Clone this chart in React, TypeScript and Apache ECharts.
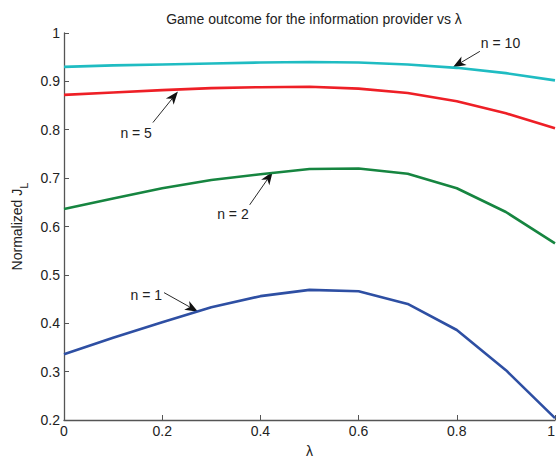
import React, { useEffect, useRef } from "react";
import * as echarts from "echarts";

const lambdas = [0, 0.1, 0.2, 0.3, 0.4, 0.5, 0.6, 0.7, 0.8, 0.9, 1];
const n1 = [0.336, 0.37, 0.402, 0.433, 0.456, 0.469, 0.466, 0.44, 0.386, 0.303, 0.204];
const n2 = [0.636, 0.658, 0.679, 0.696, 0.708, 0.719, 0.72, 0.709, 0.679, 0.63, 0.565];
const n5 = [0.872, 0.877, 0.882, 0.886, 0.888, 0.889, 0.885, 0.876, 0.859, 0.834, 0.803];
const n10 = [0.930, 0.933, 0.935, 0.937, 0.939, 0.940, 0.939, 0.935, 0.928, 0.917, 0.902];
const seriesNames = ["n = 1", "n = 2", "n = 5", "n = 10"];
const seriesColors = ["#2e4fa3", "#168540", "#ee1f26", "#1fbcc2"];

// annotation: label, tip (data coords), tail offset (px), text anchor offset (px), align
const annotations = [
  { text: "n = 10", tip: [0.792, 0.929], tail: [27, -16], txt: [28, -24], align: "left" },
  { text: "n = 5", tip: [0.232, 0.879], tail: [-25, 31], txt: [-26, 41], align: "right" },
  { text: "n = 2", tip: [0.425, 0.713], tail: [-23, 33], txt: [-24, 42], align: "right" },
  { text: "n = 1", tip: [0.273, 0.424], tail: [-34, -19], txt: [-36, -17], align: "right" },
];

export default function App() {
  const ref = useRef<HTMLDivElement>(null);
  useEffect(() => {
    const chart = echarts.init(ref.current!, null, { renderer: "svg" });
    const font = "Liberation Sans, Arial, sans-serif";
    const axisColor = "#555555";
    const datasets = [n1, n2, n5, n10];
    chart.setOption({
      animation: false,
      backgroundColor: "#ffffff",
      title: {
        text: "Game outcome for the information provider vs λ",
        left: 309,
        top: 7,
        textAlign: "center",
        textStyle: { fontFamily: font, fontSize: 14, fontWeight: "normal", color: "#222" },
      },
      grid: { left: 64, right: 2, top: 33, bottom: 40, containLabel: false, outerBoundsMode: "none" },
      xAxis: {
        type: "value",
        min: 0,
        max: 1,
        interval: 0.2,
        name: "λ",
        nameLocation: "middle",
        nameGap: 24,
        nameTextStyle: { fontFamily: font, fontSize: 14, color: "#222" },
        axisLine: { show: true, lineStyle: { color: axisColor, width: 1.3 } },
        axisTick: { show: true, inside: true, length: 5, lineStyle: { color: axisColor } },
        axisLabel: {
          fontFamily: font,
          fontSize: 14,
          color: "#222",
          margin: 4,
          alignMaxLabel: "right",
          formatter: (v: number) => String(Math.round(v * 10) / 10),
        },
        splitLine: { show: false },
      },
      yAxis: {
        type: "value",
        min: 0.2,
        max: 1,
        interval: 0.1,
        name: "Normalized J{sub|L}",
        nameLocation: "middle",
        nameGap: 40,
        nameRotate: 90,
        nameTextStyle: {
          fontFamily: font,
          fontSize: 14,
          color: "#222",
          rich: { sub: { fontFamily: font, fontSize: 11, color: "#222", verticalAlign: "bottom", padding: [0, 0, -6, 0] } },
        },
        axisLine: { show: true, lineStyle: { color: axisColor, width: 1.3 } },
        axisTick: { show: true, inside: true, length: 5, lineStyle: { color: axisColor } },
        axisLabel: {
          fontFamily: font,
          fontSize: 14,
          color: "#222",
          margin: 4,
          formatter: (v: number) => String(Math.round(v * 10) / 10),
        },
        splitLine: { show: false },
      },
      series: datasets.map((d, i) => ({
        name: seriesNames[i],
        type: "line",
        data: lambdas.map((l, j) => [l, d[j]]),
        showSymbol: false,
        lineStyle: { color: seriesColors[i], width: 2.6 },
        clip: false,
      })),
    });

    const elements: any[] = [];
    annotations.forEach((a) => {
      const p = chart.convertToPixel({ gridIndex: 0 }, a.tip) as number[];
      const tx = p[0] + a.tail[0];
      const ty = p[1] + a.tail[1];
      const dx = p[0] - tx;
      const dy = p[1] - ty;
      const len = Math.sqrt(dx * dx + dy * dy);
      const ux = dx / len;
      const uy = dy / len;
      const nx = -uy;
      const ny = ux;
      const headLen = 13;
      const headW = 5;
      const bx = p[0] - ux * headLen;
      const by = p[1] - uy * headLen;
      const nbx = p[0] - ux * headLen * 0.72;
      const nby = p[1] - uy * headLen * 0.72;
      elements.push({
        type: "line",
        shape: { x1: tx, y1: ty, x2: nbx, y2: nby },
        style: { stroke: "#111", lineWidth: 0.9 },
      });
      elements.push({
        type: "polygon",
        shape: {
          points: [
            [p[0], p[1]],
            [bx + nx * headW, by + ny * headW],
            [nbx, nby],
            [bx - nx * headW, by - ny * headW],
          ],
        },
        style: { fill: "#111" },
      });
      elements.push({
        type: "text",
        x: p[0] + a.txt[0],
        y: p[1] + a.txt[1],
        style: {
          text: a.text,
          fontFamily: font,
          fontSize: 14,
          fill: "#222",
          align: a.align,
          verticalAlign: "middle",
        },
      });
    });
    chart.setOption({ graphic: elements });

    return () => chart.dispose();
  }, []);
  return (
    <div
      ref={ref}
      style={{ position: "fixed", left: 0, top: 0, width: 557, height: 460, overflow: "hidden" }}
    />
  );
}
